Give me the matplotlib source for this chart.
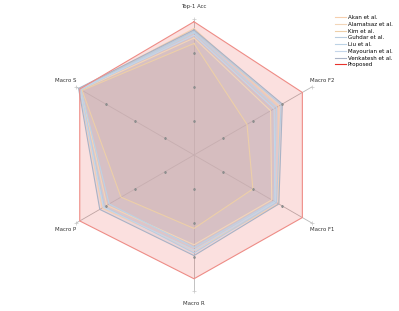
import numpy as np
import matplotlib
matplotlib.use("Agg")
import matplotlib.pyplot as plt
from matplotlib.lines import Line2D

categories = ["Top-1 Acc", "Macro F2", "Macro F1", "Macro R", "Macro P", "Macro S"]
methods = ["Akan et al.", "Alamatsaz et al.", "Kim et al.", "Guhdar et al.",
           "Liu et al.", "Mayourian et al.", "Venkatesh et al.", "Proposed"]
akan = [0.93, 0.72, 0.72, 0.70, 0.78, 0.97]
alamatsaz = [0.86, 0.65, 0.66, 0.66, 0.74, 0.96]
kim = [0.82, 0.45, 0.50, 0.54, 0.62, 0.95]
guhdar = [0.91, 0.74, 0.70, 0.72, 0.76, 0.97]
liu = [0.90, 0.70, 0.68, 0.68, 0.72, 0.96]
mayourian = [0.88, 0.68, 0.69, 0.70, 0.77, 0.97]
venkatesh = [0.92, 0.75, 0.72, 0.74, 0.80, 0.98]
proposed = [0.98, 0.92, 0.92, 0.91, 0.97, 0.97]
series = [akan, alamatsaz, kim, guhdar, liu, mayourian, venkatesh, proposed]
colors = ["#f6cfae", "#f3d6b8", "#edcfa8", "#b9cde0", "#bcd3e6", "#c4d6ea", "#a9b3c6", "#e8322b"]
ticks = [0.25, 0.5, 0.75, 1.0]

fig = plt.figure(figsize=(3.99, 3.11), dpi=100)
ax = fig.add_axes([58 / 399, 20 / 311, 272 / 399, 272 / 311], projection="polar")
ax.set_theta_offset(np.pi / 2)
ax.set_theta_direction(-1)
ax.set_ylim(0, 1.0)
ax.grid(False)
ax.spines["polar"].set_visible(False)
ax.set_xticks([])
ax.set_yticks([])
ax.patch.set_visible(False)

n = len(categories)
angles = np.linspace(0, 2 * np.pi, n, endpoint=False)

for a in angles:
    ax.plot([a, a], [0, 1.0], color="#b8b8b8", lw=0.6, zorder=1, clip_on=False)
    ax.plot([a] * 3, ticks[:3], ls="none", marker="s", ms=0.8, color="#8f8f8f", zorder=5)
    ax.plot([a], [1.0], ls="none", marker="+", ms=3, mew=0.5, color="#c8c8c8", zorder=5, clip_on=False)

closed = np.concatenate([angles, angles[:1]])
handles = []
for name, vals, c in zip(methods, series, colors):
    v = list(vals) + [vals[0]]
    if name == "Proposed":
        ax.plot(closed, v, color="#ee8c86", lw=0.8, zorder=3)
        ax.fill(closed, v, color=c, alpha=0.15, zorder=2, lw=0)
    else:
        ax.plot(closed, v, color=c, lw=0.8, zorder=3)
        ax.fill(closed, v, color=c, alpha=0.18, zorder=2, lw=0)
    handles.append(Line2D([], [], color=c, lw=0.8, label=name))

for a, cat in zip(angles, categories):
    ax.text(a, 1.09, cat, fontsize=3.9, color="#333333", ha="center", va="center")

leg = fig.legend(handles=handles, loc="upper left", bbox_to_anchor=(335 / 399, 1 - 15 / 311), fontsize=3.95,
                 frameon=False, handlelength=2.0, handletextpad=0.3, labelspacing=0.32, borderaxespad=0,
                 borderpad=0)

fig.savefig("out.png", dpi=100)
